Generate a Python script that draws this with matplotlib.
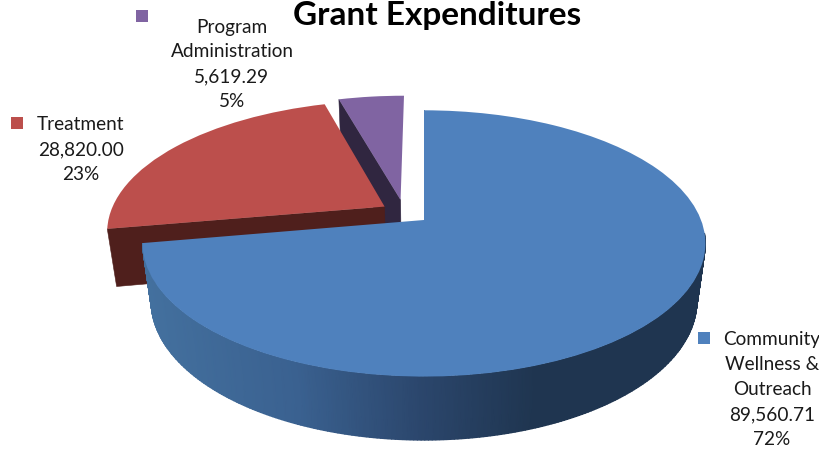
import numpy as np
import matplotlib
matplotlib.use("Agg")
import matplotlib.pyplot as plt
from matplotlib.transforms import Transform
from matplotlib.colors import LinearSegmentedColormap

title = "Grant Expenditures"
categories = ["Community\nWellness &\nOutreach", "Treatment", "Program\nAdministration"]
values = [89560.71, 28820.00, 5619.29]
value_labels = ["89,560.71", "28,820.00", "5,619.29"]
pct_labels = ["72%", "23%", "5%"]
top_colors = ["#4F81BD", "#BC4F4C", "#8064A2"]
wall_colors = ["#1F3550", "#4F1F1C", "#302640"]

plt.rcParams['font.family'] = ['Lato', 'DejaVu Sans']

fig = plt.figure(figsize=(8.2, 4.49), dpi=100)
ax = fig.add_axes([0, 0, 1, 1])
wedges, _ = ax.pie(values, startangle=90, counterclock=False, colors=top_colors,
                   explode=[0.095, 0.085, 0.1], radius=1, wedgeprops=dict(linewidth=0))
ax.set_aspect('auto')
ax.set_xlim(0, 820)
ax.set_ylim(449, 0)
ax.axis('off')

U0, V0 = wedges[0].center
OX, OY, A, B, K, H, M = 424.0, 220.0, 277.0, 129.0, 0.176, 59.0, 0.03


def project(u, v, z=0.0):
    u, v = np.asarray(u) - U0, np.asarray(v) - V0
    w = 1 + K * v + M * z
    return OX + A * u / w, OY + (-B * v + H * z) / w


class Perspective(Transform):
    input_dims = output_dims = 2
    is_separable = False
    has_inverse = False

    def transform_non_affine(self, values):
        x, y = project(values[:, 0], values[:, 1])
        return np.column_stack([x, y])


def arc(w, n=400):
    t = np.radians(np.linspace(w.theta1, w.theta2, n))
    return w.center[0] + w.r * np.cos(t), w.center[1] + w.r * np.sin(t)


def wall(us, vs, color, zorder):
    x0, y0 = project(us, vs, 0)
    x1, y1 = project(us, vs, 1)
    ax.fill(np.r_[x0, x1[::-1]], np.r_[y0, y1[::-1]], color=color, lw=0.4, zorder=zorder)


side_cmap = LinearSegmentedColormap.from_list(
    "side", [(0, "#44719F"), (0.28, "#3A6190"), (0.5, "#2B466C"), (0.7, "#1F3550"), (1, "#1F3550")])

# walls and tops are layered back to front: program, treatment, community
for i, base in [(2, 1), (1, 4), (0, 7)]:
    w = wedges[i]
    cu, cv = w.center
    au, av = arc(w)
    wall(np.array([cu, au[-1]]), np.array([cv, av[-1]]), wall_colors[i], base)
    if i == 0:
        keep = av < cv - 0.1
        x0, y0 = project(au[keep], av[keep], 0)
        x1, y1 = project(au[keep], av[keep], 1)
        frac = np.clip((x1 - 145) / 555, 0, 1)
        ax.pcolormesh(np.vstack([x0, x1]), np.vstack([y0, y1]), np.vstack([frac, frac]),
                      cmap=side_cmap, vmin=0, vmax=1, shading='gouraud', zorder=base)
    w.set_transform(Perspective() + ax.transData)
    w.set_zorder(base + 2)
    w.set_clip_on(False)

label_pos = [(772, 339), (81, 124), (232, 26)]
square_pos = [(704, 338), (17, 123), (142, 16)]
for i in range(3):
    lines = (categories[i] + "\n" + value_labels[i] + "\n" + pct_labels[i])
    lx, ly = label_pos[i]
    ax.text(lx, ly - 7.5, lines, ha='center', va='top', fontsize=13.7, linespacing=1.57,
            color="#1a1a1a", zorder=20)
    ax.plot(*square_pos[i], marker='s', ms=8.6, mew=0, color=top_colors[i], zorder=20, clip_on=False)

ax.text(437.5, 24.5, title, ha='center', va='baseline', fontsize=24, fontweight='bold',
        color='black', zorder=21)

fig.savefig("out.png", dpi=100)
